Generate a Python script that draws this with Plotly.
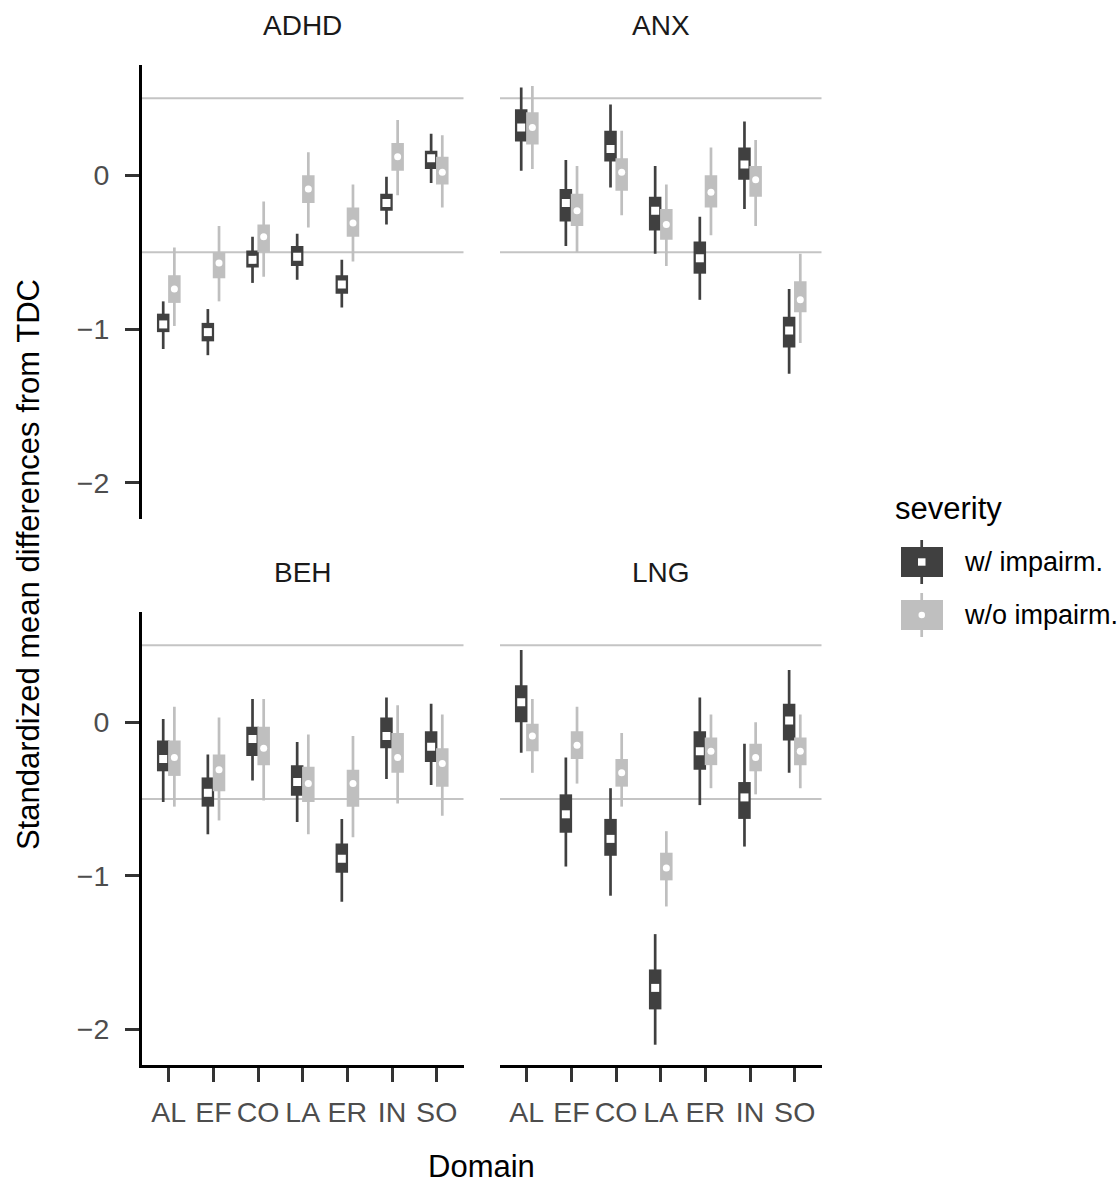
import plotly.graph_objects as go

# ---------------- data ----------------
domains = ["AL", "EF", "CO", "LA", "ER", "IN", "SO"]
facets = ["ADHD", "ANX", "BEH", "LNG"]
severities = ["w/ impairm.", "w/o impairm."]
y_ticks = [-2, -1, 0]
y_tick_text = ["\u22122", "\u22121", "0"]
ref_lines = [-0.5, 0.5]

# ADHD
adhd_w_point = [-0.97, -1.02, -0.55, -0.53, -0.71, -0.18, 0.11]
adhd_w_inner = [(-1.02, -0.90), (-1.08, -0.96), (-0.60, -0.49), (-0.59, -0.46), (-0.77, -0.65), (-0.23, -0.12), (0.04, 0.16)]
adhd_w_outer = [(-1.13, -0.82), (-1.17, -0.87), (-0.70, -0.40), (-0.68, -0.38), (-0.86, -0.55), (-0.32, -0.01), (-0.05, 0.27)]
adhd_wo_point = [-0.74, -0.57, -0.40, -0.09, -0.31, 0.12, 0.02]
adhd_wo_inner = [(-0.83, -0.65), (-0.67, -0.50), (-0.50, -0.32), (-0.18, 0.00), (-0.40, -0.21), (0.03, 0.21), (-0.06, 0.12)]
adhd_wo_outer = [(-0.98, -0.47), (-0.82, -0.33), (-0.66, -0.17), (-0.34, 0.15), (-0.56, -0.06), (-0.13, 0.36), (-0.21, 0.26)]

# ANX
anx_w_point = [0.31, -0.18, 0.17, -0.23, -0.54, 0.07, -1.01]
anx_w_inner = [(0.22, 0.43), (-0.30, -0.09), (0.09, 0.29), (-0.36, -0.14), (-0.64, -0.43), (-0.03, 0.18), (-1.12, -0.92)]
anx_w_outer = [(0.03, 0.57), (-0.46, 0.10), (-0.08, 0.46), (-0.51, 0.06), (-0.81, -0.27), (-0.22, 0.35), (-1.29, -0.74)]
anx_wo_point = [0.31, -0.23, 0.02, -0.32, -0.11, -0.03, -0.81]
anx_wo_inner = [(0.20, 0.41), (-0.33, -0.12), (-0.10, 0.11), (-0.42, -0.22), (-0.21, 0.00), (-0.14, 0.06), (-0.89, -0.69)]
anx_wo_outer = [(0.04, 0.58), (-0.50, 0.06), (-0.26, 0.29), (-0.59, -0.06), (-0.39, 0.18), (-0.33, 0.23), (-1.09, -0.51)]

# BEH
beh_w_point = [-0.24, -0.46, -0.11, -0.39, -0.89, -0.09, -0.16]
beh_w_inner = [(-0.32, -0.12), (-0.55, -0.36), (-0.22, -0.03), (-0.48, -0.28), (-0.98, -0.79), (-0.17, 0.03), (-0.26, -0.06)]
beh_w_outer = [(-0.52, 0.02), (-0.73, -0.21), (-0.38, 0.15), (-0.65, -0.13), (-1.17, -0.63), (-0.37, 0.16), (-0.41, 0.12)]
beh_wo_point = [-0.23, -0.31, -0.17, -0.40, -0.40, -0.23, -0.27]
beh_wo_inner = [(-0.35, -0.12), (-0.45, -0.21), (-0.28, -0.03), (-0.52, -0.29), (-0.55, -0.31), (-0.33, -0.07), (-0.42, -0.17)]
beh_wo_outer = [(-0.55, 0.10), (-0.64, 0.03), (-0.51, 0.15), (-0.73, -0.08), (-0.75, -0.09), (-0.53, 0.11), (-0.61, 0.05)]

# LNG
lng_w_point = [0.13, -0.60, -0.76, -1.73, -0.19, -0.49, 0.01]
lng_w_inner = [(0.00, 0.24), (-0.72, -0.47), (-0.87, -0.63), (-1.87, -1.61), (-0.31, -0.06), (-0.63, -0.39), (-0.12, 0.12)]
lng_w_outer = [(-0.20, 0.47), (-0.94, -0.23), (-1.13, -0.43), (-2.10, -1.38), (-0.54, 0.16), (-0.81, -0.14), (-0.33, 0.34)]
lng_wo_point = [-0.09, -0.15, -0.33, -0.95, -0.19, -0.23, -0.19]
lng_wo_inner = [(-0.19, -0.01), (-0.24, -0.06), (-0.42, -0.24), (-1.03, -0.85), (-0.28, -0.10), (-0.32, -0.14), (-0.28, -0.10)]
lng_wo_outer = [(-0.33, 0.15), (-0.40, 0.10), (-0.55, -0.07), (-1.20, -0.71), (-0.43, 0.05), (-0.47, 0.00), (-0.43, 0.05)]

groups = {
    "ADHD": [(adhd_w_point, adhd_w_inner, adhd_w_outer), (adhd_wo_point, adhd_wo_inner, adhd_wo_outer)],
    "ANX": [(anx_w_point, anx_w_inner, anx_w_outer), (anx_wo_point, anx_wo_inner, anx_wo_outer)],
    "BEH": [(beh_w_point, beh_w_inner, beh_w_outer), (beh_wo_point, beh_wo_inner, beh_wo_outer)],
    "LNG": [(lng_w_point, lng_w_inner, lng_w_outer), (lng_wo_point, lng_wo_inner, lng_wo_outer)],
}

# ---------------- style ----------------
W, H = 1117, 1183
FONT = "Liberation Sans, Arial, Helvetica, sans-serif"
DARK = "#404040"
LIGHT = "#BFBFBF"
colors = [DARK, LIGHT]
symbols = ["square", "circle"]
msizes = [8, 7]
dodge = [-0.125, 0.125]
YR = [-2.232, 0.717]
XR = [-0.6, 6.6]

def px_x(p):
    return p / W

def px_y(p):
    return 1 - p / H

xdom = {0: [px_x(142), px_x(463.5)], 1: [px_x(500), px_x(821.5)]}
ydom = {0: [px_y(518.5), px_y(65)], 1: [px_y(1065), px_y(612)]}

fig = go.Figure()

for i, fac in enumerate(facets):
    row, col = divmod(i, 2)
    ax = "" if i == 0 else str(i + 1)
    xref, yref = "x" + ax, "y" + ax
    for s in range(2):
        pt, inner, outer = groups[fac][s]
        xs = [k + dodge[s] for k in range(len(domains))]
        X, Y = [], []
        for x, (lo, hi) in zip(xs, outer):
            X += [x, x, None]
            Y += [lo, hi, None]
        fig.add_trace(go.Scatter(x=X, y=Y, mode="lines", line=dict(color=colors[s], width=2.7),
                                 xaxis=xref, yaxis=yref, showlegend=False, hoverinfo="skip"))
        X, Y = [], []
        for x, (lo, hi) in zip(xs, inner):
            X += [x, x, None]
            Y += [lo, hi, None]
        fig.add_trace(go.Scatter(x=X, y=Y, mode="lines", line=dict(color=colors[s], width=12.5),
                                 xaxis=xref, yaxis=yref, showlegend=False, hoverinfo="skip"))
        fig.add_trace(go.Scatter(x=xs, y=pt, mode="markers",
                                 marker=dict(symbol=symbols[s], size=msizes[s], color="white",
                                             line=dict(width=0)),
                                 xaxis=xref, yaxis=yref, showlegend=False,
                                 name=severities[s]))
    for v in ref_lines:
        fig.add_shape(type="line", xref=xref + " domain", yref=yref, x0=0, x1=1, y0=v, y1=v,
                      line=dict(color="#C4C4C4", width=2), layer="below")

    xa = dict(domain=xdom[col], range=XR, anchor=yref, showgrid=False, zeroline=False,
              tickmode="array", tickvals=list(range(len(domains))), ticktext=domains,
              tickfont=dict(family=FONT, size=28.5, color="#4D4D4D"))
    ya = dict(domain=ydom[row], range=YR, anchor=xref, showgrid=False, zeroline=False,
              tickmode="array", tickvals=y_ticks, ticktext=y_tick_text,
              tickfont=dict(family=FONT, size=28.5, color="#4D4D4D"))
    if row == 1:
        xa.update(showline=True, linecolor="black", linewidth=3, ticks="outside", ticklen=14,
                  tickwidth=2.5, tickcolor="#333333", showticklabels=True, ticklabelstandoff=6)
    else:
        xa.update(showline=False, ticks="", showticklabels=False)
    if col == 0:
        ya.update(showline=True, linecolor="black", linewidth=3, ticks="outside", ticklen=14,
                  tickwidth=2.5, tickcolor="#333333", showticklabels=True, ticklabelstandoff=10)
    else:
        ya.update(showline=False, ticks="", showticklabels=False)
    fig.layout["xaxis" + ax] = xa
    fig.layout["yaxis" + ax] = ya

    fig.add_annotation(text=fac, xref="paper", yref="paper",
                       x=(xdom[col][0] + xdom[col][1]) / 2,
                       y=px_y(25 if row == 0 else 572), showarrow=False,
                       font=dict(family=FONT, size=28, color="#1A1A1A"),
                       xanchor="center", yanchor="middle")

# axis titles
fig.add_annotation(text="Standardized mean differences from TDC", xref="paper", yref="paper",
                   x=px_x(28), y=px_y(565), textangle=-90, showarrow=False,
                   font=dict(family=FONT, size=31, color="black"), xanchor="center", yanchor="middle")
fig.add_annotation(text="Domain", xref="paper", yref="paper",
                   x=px_x(481), y=px_y(1166), showarrow=False,
                   font=dict(family=FONT, size=31, color="black"), xanchor="center", yanchor="middle")

# legend (drawn manually)
fig.add_annotation(text="severity", xref="paper", yref="paper", x=px_x(893), y=px_y(508),
                   showarrow=False, font=dict(family=FONT, size=31, color="black"),
                   xanchor="left", yanchor="middle")
key_centers = [562, 615]
for s in range(2):
    cy = key_centers[s]
    fig.add_shape(type="line", xref="paper", yref="paper", x0=px_x(921.7), x1=px_x(921.7),
                  y0=px_y(cy - 22), y1=px_y(cy + 22), line=dict(color=colors[s], width=2.7))
    fig.add_shape(type="rect", xref="paper", yref="paper", x0=px_x(901), x1=px_x(943),
                  y0=px_y(cy - 15), y1=px_y(cy + 15), line=dict(width=0), fillcolor=colors[s])
    if s == 0:
        fig.add_shape(type="rect", xref="paper", yref="paper", x0=px_x(918), x1=px_x(925.5),
                      y0=px_y(cy - 3.7), y1=px_y(cy + 3.7), line=dict(width=0), fillcolor="white")
    else:
        fig.add_shape(type="circle", xref="paper", yref="paper", x0=px_x(918.5), x1=px_x(925),
                      y0=px_y(cy - 3.2), y1=px_y(cy + 3.2), line=dict(width=0), fillcolor="white")
    fig.add_annotation(text=severities[s], xref="paper", yref="paper", x=px_x(962), y=px_y(cy),
                       showarrow=False, font=dict(family=FONT, size=27, color="black"),
                       xanchor="left", yanchor="middle")

fig.update_layout(width=W, height=H, margin=dict(l=0, r=0, t=0, b=0, autoexpand=False),
                  paper_bgcolor="white", plot_bgcolor="white", showlegend=False,
                  font=dict(family=FONT))

fig.write_html("out.html", config={"displayModeBar": False},
               post_script="document.body.style.margin='0';document.body.style.overflow='hidden';")
